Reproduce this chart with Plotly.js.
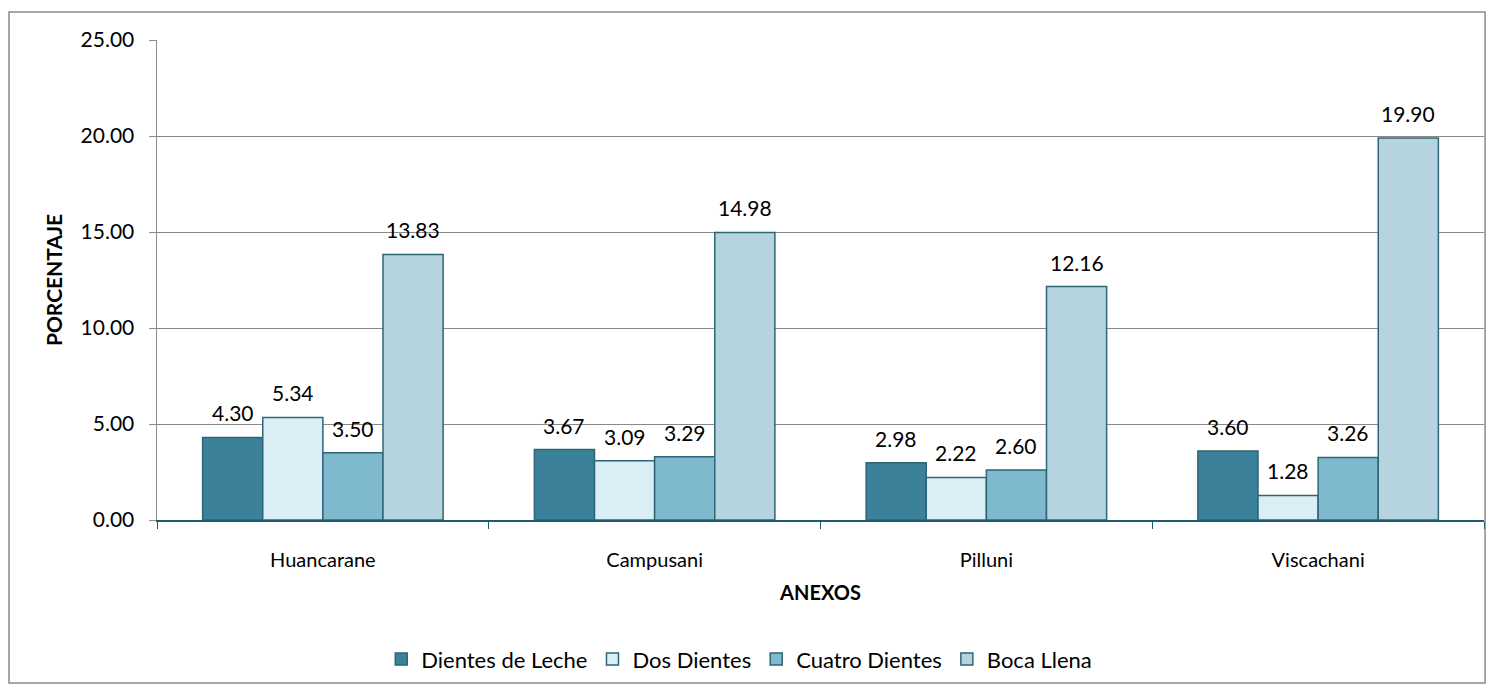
<!DOCTYPE html>
<html>
<head>
<meta charset="utf-8">
<script src="https://cdn.plot.ly/plotly-3.0.1.min.js"></script>
<style>html,body{margin:0;padding:0;background:#fff;}#chart{width:1495px;height:691px;}</style>
</head>
<body>
<div id="chart"></div>
<script>
const categories = ["Huancarane", "Campusani", "Pilluni", "Viscachani"];
const seriesNames = ["Dientes de Leche", "Dos Dientes", "Cuatro Dientes", "Boca Llena"];
const dientesDeLeche = [4.30, 3.67, 2.98, 3.60];
const dosDientes = [5.34, 3.09, 2.22, 1.28];
const cuatroDientes = [3.50, 3.29, 2.60, 3.26];
const bocaLlena = [13.83, 14.98, 12.16, 19.90];
const yTickValues = [0, 5, 10, 15, 20, 25];

const seriesValues = [dientesDeLeche, dosDientes, cuatroDientes, bocaLlena];
const colors = ["#3A8199", "#DAEEF5", "#7EB9CE", "#B5D4E0"];
const FONT = "Lato, 'Open Sans', sans-serif";
const BARGAP = 0.275;

const traces = seriesValues.map((vals, i) => ({
  type: "bar",
  name: seriesNames[i],
  x: categories,
  y: vals,
  marker: {color: colors[i], line: {color: "#2E6577", width: 1.5}}
}));

// value labels placed above each bar (data coordinates, category index + group offset)
const nSeries = seriesValues.length;
const slot = (1 - BARGAP) / nSeries;
const annotations = [];
seriesValues.forEach((vals, i) => {
  vals.forEach((v, j) => {
    annotations.push({
      x: j + (i - (nSeries - 1) / 2) * slot,
      y: v, xref: "x", yref: "y",
      text: v.toFixed(2), showarrow: false,
      xanchor: "center", yanchor: "bottom", yshift: 10,
      font: {family: FONT, size: 21, color: "#000"}
    });
  });
});

const layout = {
  width: 1495, height: 691,
  margin: {l: 157, r: 11, t: 40, b: 171},
  paper_bgcolor: "#fff", plot_bgcolor: "#fff",
  font: {family: FONT, size: 20, color: "#000"},
  barmode: "group",
  bargap: BARGAP,
  bargroupgap: 0,
  showlegend: true,
  legend: {
    orientation: "h", x: 0.169, xanchor: "left", y: -0.29, yanchor: "middle",
    font: {family: FONT, size: 22, color: "#000"},
    traceorder: "normal", itemwidth: 30
  },
  annotations: annotations,
  xaxis: {
    type: "category",
    showline: true, linecolor: "#1F5A6E", linewidth: 1.5,
    ticks: "outside", tickson: "boundaries", ticklen: 7, tickcolor: "#1F5A6E",
    ticklabelstandoff: 21,
    tickfont: {family: FONT, size: 20},
    showgrid: false,
    title: {text: "<b>ANEXOS</b>", font: {family: FONT, size: 20}, standoff: 16},
    automargin: false
  },
  yaxis: {
    range: [0, 25], tickvals: yTickValues, tickformat: ".2f",
    showgrid: true, gridcolor: "#8A8A8A", gridwidth: 1,
    showline: true, linecolor: "#8A8A8A", linewidth: 1.5,
    ticks: "outside", ticklen: 7, tickcolor: "#8A8A8A",
    ticklabelstandoff: 10,
    zeroline: false,
    tickfont: {family: FONT, size: 21},
    title: {text: "<b>PORCENTAJE</b>", font: {family: FONT, size: 21}, standoff: 12},
    automargin: false
  },
  shapes: [{
    type: "rect", xref: "paper", yref: "paper",
    x0: -0.1115, x1: 1.0008, y0: -0.3396, y1: 1.0583,
    line: {color: "#8A8A8A", width: 1.5}, fillcolor: "rgba(0,0,0,0)", layer: "below"
  }]
};

Plotly.newPlot("chart", traces, layout, {displayModeBar: false, staticPlot: true});
</script>
</body>
</html>
